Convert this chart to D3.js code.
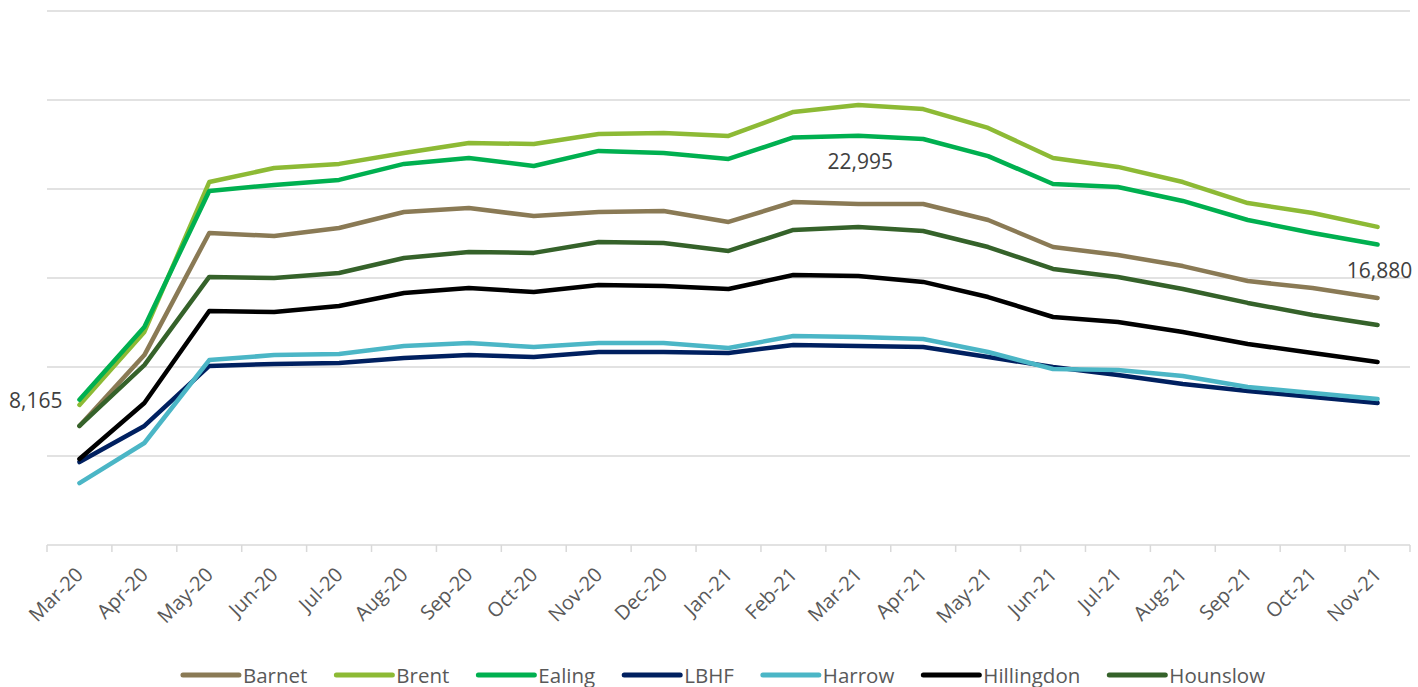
<!DOCTYPE html>
<html>
<head>
<meta charset="utf-8">
<script src="https://cdn.jsdelivr.net/npm/d3@7"></script>
<style>
  html, body { margin: 0; padding: 0; background: #ffffff; }
  svg { display: block; font-family: "Open Sans", "Noto Sans", sans-serif; }
</style>
</head>
<body>
<svg id="chart" width="1418" height="687"></svg>
<script>
// ---- Data ----
const months = ["Mar-20","Apr-20","May-20","Jun-20","Jul-20","Aug-20","Sep-20","Oct-20","Nov-20","Dec-20","Jan-21",
                "Feb-21","Mar-21","Apr-21","May-21","Jun-21","Jul-21","Aug-21","Sep-21","Oct-21","Nov-21"];
const seriesNames = ["Barnet","Brent","Ealing","LBHF","Harrow","Hillingdon","Hounslow"];
const barnet     = [6690,10670,17530,17360,17810,18710,18930,18480,18710,18760,18150,19270,19160,19160,18260,16740,16290,15670,14830,14440,13880];
const brent      = [7870,11970,20390,21180,21410,22020,22580,22530,23090,23150,22980,24330,24720,24490,23430,21740,21240,20390,19210,18650,17870];
const ealing     = [8165,12250,19890,20230,20510,21410,21740,21290,22140,22020,21690,22900,22995,22810,21850,20280,20110,19330,18260,17530,16880];
const lbhf       = [4660,6690,10060,10170,10230,10510,10670,10560,10840,10840,10790,11240,11180,11120,10560,10000,9550,9050,8650,8320,7980];
const harrow     = [3480,5730,10390,10670,10730,11180,11350,11120,11350,11350,11070,11740,11690,11570,10840,9890,9830,9490,8880,8540,8200];
const hillingdon = [4830,7980,13150,13090,13430,14160,14440,14210,14610,14550,14380,15170,15110,14780,13930,12810,12530,11970,11290,10790,10280];
const hounslow   = [6690,10110,15060,15000,15280,16120,16460,16410,17020,16970,16520,17700,17870,17640,16740,15510,15060,14380,13600,12920,12360];
const yTicks = [0,5000,10000,15000,20000,25000,30000];
// data labels shown on Ealing series: month index and placement
const labelIndex = [0, 12, 20];
const labelPlace = ["left","below","below"];

// ---- Styles ----
const colors = {
  Barnet: "#8a7a55",
  Brent: "#8dba35",
  Ealing: "#00b050",
  LBHF: "#002060",
  Harrow: "#4bb6c6",
  Hillingdon: "#000000",
  Hounslow: "#35622a"
};
const seriesValues = [barnet, brent, ealing, lbhf, harrow, hillingdon, hounslow];

const svg = d3.select("#chart");
const W = 1418, H = 687;
svg.append("rect").attr("width", W).attr("height", H).attr("fill", "#fff");

const plotL = 47, plotR = 1410, plotT = 11, plotB = 545;
const x = d3.scaleBand().domain(months).range([plotL, plotR]).paddingInner(0).paddingOuter(0);
const y = d3.scaleLinear().domain([0, 30000]).range([plotB, plotT]);
const cx = m => x(m) + x.bandwidth() / 2;

// gridlines
svg.append("g").selectAll("line")
  .data(yTicks.filter(t => t > 0))
  .join("line")
  .attr("x1", plotL).attr("x2", plotR)
  .attr("y1", d => y(d)).attr("y2", d => y(d))
  .attr("stroke", "#d9d9d9").attr("stroke-width", 1.5);

// x axis with labels
const xAxis = svg.append("g").attr("transform", `translate(0,${plotB})`)
  .call(d3.axisBottom(x).tickSize(0).tickSizeOuter(0));
xAxis.select(".domain").remove();
xAxis.selectAll(".tick text")
  .attr("x", 0).attr("y", 0).attr("dy", 0)
  .attr("text-anchor", "end")
  .attr("transform", "translate(5,31) rotate(-45)")
  .attr("fill", "#595959")
  .style("font-size", "20px")
  .style("font-family", "'Open Sans', sans-serif");

// axis line + boundary ticks
svg.append("line").attr("x1", plotL).attr("x2", plotR).attr("y1", plotB).attr("y2", plotB)
  .attr("stroke", "#d9d9d9").attr("stroke-width", 1.5);
const boundaries = months.map(m => x(m)).concat([plotR]);
svg.append("g").selectAll("line").data(boundaries).join("line")
  .attr("x1", d => d).attr("x2", d => d)
  .attr("y1", plotB).attr("y2", plotB + 7)
  .attr("stroke", "#d9d9d9").attr("stroke-width", 1.5);

// lines
const line = d3.line().x((d, i) => cx(months[i])).y(d => y(d));
seriesNames.forEach((name, si) => {
  svg.append("path")
    .datum(seriesValues[si])
    .attr("d", line)
    .attr("fill", "none")
    .attr("stroke", colors[name])
    .attr("stroke-width", 4.5)
    .attr("stroke-linejoin", "round")
    .attr("stroke-linecap", "round");
});

// data labels (Ealing)
const fmt = d3.format(",");
labelIndex.forEach((idx, k) => {
  const px = cx(months[idx]), py = y(ealing[idx]);
  const t = svg.append("text")
    .text(fmt(ealing[idx]))
    .attr("fill", "#404040")
    .style("font-size", "21px");
  if (labelPlace[k] === "left") {
    t.attr("x", px - 17).attr("y", py + 8).attr("text-anchor", "end");
  } else {
    t.attr("x", px + 2).attr("y", py + 33).attr("text-anchor", "middle");
  }
});

// legend
const lg = svg.append("g");
const lineLen = 56, textGap = 4, itemGap = 29, legY = 675;
let cur = 0;
const items = [];
seriesNames.forEach(name => {
  const g = lg.append("g");
  g.append("line").attr("x1", 0).attr("x2", lineLen).attr("y1", 0).attr("y2", 0)
    .attr("stroke", colors[name]).attr("stroke-width", 5).attr("stroke-linecap", "round");
  const t = g.append("text").text(name)
    .attr("x", lineLen + textGap).attr("y", 7.5)
    .attr("fill", "#595959").style("font-size", "20.5px");
  const w = lineLen + textGap + t.node().getComputedTextLength();
  items.push({ g, start: cur });
  cur += w + itemGap;
});
const total = cur - itemGap;
const startX = 724 - total / 2;
items.forEach(it => it.g.attr("transform", `translate(${startX + it.start},${legY})`));
</script>
</body>
</html>
